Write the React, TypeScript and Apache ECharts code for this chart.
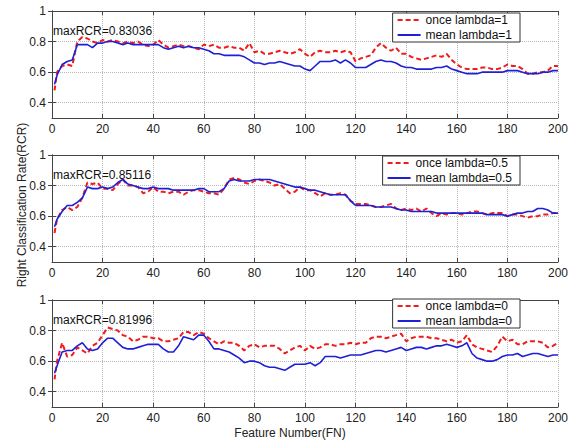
import React, { useEffect, useRef } from "react";
import * as echarts from "echarts";

const FN = [1, 2, 4, 6, 8, 10, 12, 14, 16, 18, 20, 22, 24, 26, 28, 30, 32, 34, 36, 38, 40, 42, 44, 46, 48, 50, 52, 54, 56, 58, 60, 62, 64, 66, 68, 70, 72, 74, 76, 78, 80, 82, 84, 86, 88, 90, 92, 94, 96, 98, 100, 102, 104, 106, 108, 110, 112, 114, 116, 118, 120, 122, 124, 126, 128, 130, 132, 134, 136, 138, 140, 142, 144, 146, 148, 150, 152, 154, 156, 158, 160, 162, 164, 166, 168, 170, 172, 174, 176, 178, 180, 182, 184, 186, 188, 190, 192, 194, 196, 198, 200];

const once1 = [0.48,
  0.60, 0.64, 0.65, 0.64, 0.80, 0.83, 0.82, 0.80, 0.79, 0.81,
  0.80, 0.81, 0.80, 0.79, 0.80, 0.79, 0.80, 0.78, 0.77, 0.78,
  0.81, 0.78, 0.76, 0.77, 0.78, 0.77, 0.77, 0.76, 0.75, 0.78,
  0.77, 0.78, 0.76, 0.76, 0.77, 0.76, 0.76, 0.74, 0.79, 0.73,
  0.74, 0.72, 0.72, 0.73, 0.74, 0.73, 0.72, 0.73, 0.75, 0.72,
  0.70, 0.73, 0.74, 0.73, 0.73, 0.74, 0.73, 0.74, 0.73, 0.67,
  0.69, 0.70, 0.71, 0.76, 0.79, 0.76, 0.74, 0.76, 0.72, 0.72,
  0.70, 0.69, 0.68, 0.69, 0.70, 0.71, 0.70, 0.72, 0.68, 0.65,
  0.63, 0.62, 0.62, 0.62, 0.63, 0.63, 0.62, 0.62, 0.63, 0.65,
  0.64, 0.64, 0.62, 0.59, 0.59, 0.60, 0.60, 0.61, 0.64, 0.64];
const mean1 = [0.52,
  0.58, 0.65, 0.67, 0.68, 0.78, 0.78, 0.78, 0.76, 0.79, 0.79,
  0.80, 0.80, 0.79, 0.78, 0.79, 0.78, 0.78, 0.78, 0.78, 0.78,
  0.78, 0.76, 0.75, 0.76, 0.77, 0.76, 0.77, 0.76, 0.76, 0.75,
  0.74, 0.72, 0.72, 0.71, 0.71, 0.71, 0.71, 0.70, 0.68, 0.66,
  0.66, 0.65, 0.66, 0.66, 0.67, 0.66, 0.65, 0.64, 0.64, 0.62,
  0.61, 0.64, 0.67, 0.67, 0.67, 0.68, 0.66, 0.68, 0.66, 0.63,
  0.63, 0.63, 0.65, 0.67, 0.68, 0.67, 0.67, 0.66, 0.64, 0.63,
  0.63, 0.62, 0.62, 0.62, 0.62, 0.63, 0.63, 0.64, 0.62, 0.61,
  0.60, 0.59, 0.59, 0.59, 0.60, 0.60, 0.60, 0.60, 0.60, 0.61,
  0.61, 0.61, 0.60, 0.59, 0.59, 0.59, 0.60, 0.60, 0.61, 0.61];
const once05 = [0.49,
  0.58, 0.64, 0.66, 0.64, 0.66, 0.72, 0.82, 0.81, 0.82, 0.78,
  0.78, 0.77, 0.81, 0.84, 0.80, 0.80, 0.79, 0.75, 0.76, 0.79,
  0.76, 0.76, 0.75, 0.76, 0.76, 0.74, 0.76, 0.77, 0.77, 0.76,
  0.75, 0.75, 0.74, 0.78, 0.84, 0.85, 0.84, 0.82, 0.81, 0.83,
  0.84, 0.83, 0.82, 0.80, 0.81, 0.78, 0.75, 0.76, 0.79, 0.77,
  0.77, 0.75, 0.73, 0.75, 0.74, 0.74, 0.75, 0.74, 0.70, 0.68,
  0.68, 0.68, 0.67, 0.66, 0.66, 0.67, 0.68, 0.65, 0.64, 0.65,
  0.64, 0.65, 0.63, 0.65, 0.62, 0.60, 0.62, 0.61, 0.62, 0.62,
  0.61, 0.62, 0.63, 0.63, 0.62, 0.61, 0.62, 0.62, 0.62, 0.60,
  0.61, 0.61, 0.60, 0.59, 0.60, 0.60, 0.61, 0.61, 0.62, 0.62];
const mean05 = [0.53,
  0.58, 0.63, 0.67, 0.67, 0.69, 0.72, 0.79, 0.78, 0.78, 0.79,
  0.78, 0.79, 0.82, 0.84, 0.81, 0.80, 0.79, 0.78, 0.78, 0.79,
  0.78, 0.78, 0.78, 0.77, 0.77, 0.77, 0.77, 0.77, 0.78, 0.78,
  0.76, 0.76, 0.76, 0.78, 0.83, 0.84, 0.83, 0.83, 0.83, 0.84,
  0.84, 0.84, 0.84, 0.83, 0.82, 0.81, 0.80, 0.79, 0.79, 0.78,
  0.77, 0.77, 0.76, 0.75, 0.74, 0.74, 0.74, 0.74, 0.70, 0.67,
  0.67, 0.67, 0.67, 0.66, 0.66, 0.66, 0.66, 0.65, 0.64, 0.64,
  0.63, 0.63, 0.63, 0.63, 0.63, 0.62, 0.62, 0.62, 0.62, 0.62,
  0.62, 0.62, 0.62, 0.62, 0.62, 0.61, 0.61, 0.61, 0.61, 0.60,
  0.61, 0.62, 0.62, 0.63, 0.63, 0.65, 0.65, 0.64, 0.62, 0.62];
const once0 = [0.48,
  0.60, 0.72, 0.63, 0.64, 0.69, 0.67, 0.65, 0.70, 0.72, 0.77,
  0.82, 0.81, 0.80, 0.77, 0.76, 0.73, 0.74, 0.76, 0.76, 0.75,
  0.75, 0.73, 0.73, 0.74, 0.75, 0.79, 0.79, 0.77, 0.79, 0.78,
  0.75, 0.73, 0.71, 0.73, 0.72, 0.72, 0.70, 0.67, 0.70, 0.71,
  0.69, 0.70, 0.70, 0.70, 0.68, 0.65, 0.67, 0.69, 0.70, 0.67,
  0.70, 0.68, 0.69, 0.71, 0.71, 0.70, 0.71, 0.71, 0.72, 0.71,
  0.72, 0.72, 0.75, 0.76, 0.76, 0.75, 0.76, 0.77, 0.78, 0.73,
  0.75, 0.76, 0.76, 0.76, 0.75, 0.75, 0.74, 0.73, 0.74, 0.72,
  0.73, 0.77, 0.71, 0.69, 0.68, 0.67, 0.66, 0.70, 0.76, 0.73,
  0.74, 0.71, 0.71, 0.73, 0.73, 0.73, 0.72, 0.69, 0.70, 0.72];
const mean0 = [0.52,
  0.57, 0.66, 0.67, 0.67, 0.70, 0.72, 0.68, 0.67, 0.68, 0.72,
  0.75, 0.75, 0.72, 0.69, 0.68, 0.68, 0.69, 0.70, 0.71, 0.71,
  0.71, 0.68, 0.66, 0.66, 0.70, 0.76, 0.75, 0.74, 0.77, 0.77,
  0.73, 0.68, 0.68, 0.67, 0.66, 0.64, 0.62, 0.59, 0.60, 0.60,
  0.59, 0.57, 0.56, 0.56, 0.55, 0.54, 0.56, 0.58, 0.58, 0.58,
  0.59, 0.57, 0.59, 0.63, 0.63, 0.63, 0.62, 0.63, 0.64, 0.64,
  0.64, 0.65, 0.66, 0.67, 0.67, 0.66, 0.67, 0.68, 0.69, 0.67,
  0.68, 0.69, 0.69, 0.68, 0.69, 0.70, 0.70, 0.71, 0.70, 0.69,
  0.70, 0.72, 0.65, 0.62, 0.61, 0.60, 0.60, 0.61, 0.63, 0.64,
  0.64, 0.65, 0.63, 0.64, 0.65, 0.65, 0.64, 0.63, 0.64, 0.64];

const X_TICKS_INTERVAL = 20;
const Y_TICKS = [0.4, 0.6, 0.8, 1];
const PANELS = [
  { once: once1, mean: mean1, onceName: "once lambda=1", meanName: "mean lambda=1", maxText: "maxRCR=0.83036" },
  { once: once05, mean: mean05, onceName: "once lambda=0.5", meanName: "mean lambda=0.5", maxText: "maxRCR=0.85116" },
  { once: once0, mean: mean0, onceName: "once lambda=0", meanName: "mean lambda=0", maxText: "maxRCR=0.81996" },
];
const Y_TITLE = "Right Classification Rate(RCR)";
const X_TITLE = "Feature Number(FN)";

const GRID_TOPS = [11, 155, 300];
const GRID_H = 107;
const GRID_LEFT = 52;
const GRID_RIGHT = 13;
const LEGEND_TOPS = [13, 156, 299];
const FONT = "Arial, 'Liberation Sans', Helvetica, sans-serif";
const AXIS_COLOR = "#444";

export default function App() {
  const ref = useRef<HTMLDivElement>(null);
  useEffect(() => {
    if (!ref.current) return;
    const chart = echarts.init(ref.current, null, { renderer: "svg" });
    const grid: any[] = [];
    const xAxis: any[] = [];
    const yAxis: any[] = [];
    const series: any[] = [];
    const legend: any[] = [];
    const graphic: any[] = [];
    PANELS.forEach((p, i) => {
      grid.push({ left: GRID_LEFT, right: GRID_RIGHT, top: GRID_TOPS[i], height: GRID_H, containLabel: false });
      xAxis.push({
        type: "value", gridIndex: i, min: 0, max: 200, interval: X_TICKS_INTERVAL, position: "bottom",
        axisLine: { show: true, lineStyle: { color: AXIS_COLOR, width: 1 } },
        axisTick: { show: true, inside: true, length: 4, lineStyle: { color: AXIS_COLOR } },
        axisLabel: { color: "#222", fontSize: 12, fontFamily: FONT, margin: 5 },
        splitLine: { show: true, lineStyle: { type: "dotted", color: "#b8b8b8", width: 1 } },
      });
      yAxis.push({
        type: "value", gridIndex: i, min: 0.3, max: 1, position: "left",
        axisLine: { show: true, lineStyle: { color: AXIS_COLOR, width: 1 } },
        axisTick: { show: true, inside: true, length: 4, customValues: Y_TICKS, lineStyle: { color: AXIS_COLOR } },
        axisLabel: {
          color: "#222", fontSize: 12, fontFamily: FONT, margin: 6, customValues: Y_TICKS,
          formatter: (v: number) => (v === 1 ? "1" : v.toFixed(1)),
        },
        splitLine: { show: true, lineStyle: { type: "dotted", color: "#b8b8b8", width: 1 } },
      });
      series.push({
        type: "line", name: p.onceName, xAxisIndex: i, yAxisIndex: i, symbol: "none",
        data: FN.map((x, k) => [x, p.once[k]]),
        lineStyle: { color: "#ee1c1c", width: 2, type: [5, 3] }, itemStyle: { color: "#ee1c1c" },
      });
      series.push({
        type: "line", name: p.meanName, xAxisIndex: i, yAxisIndex: i, symbol: "none",
        data: FN.map((x, k) => [x, p.mean[k]]),
        lineStyle: { color: "#1f1fd6", width: 1.6, type: "solid" }, itemStyle: { color: "#1f1fd6" },
      });
      legend.push({
        data: [p.onceName, p.meanName], orient: "vertical", right: 51, top: LEGEND_TOPS[i],
        itemWidth: 23, itemHeight: 8, itemGap: 3, padding: [1, 8, 1, 4],
        backgroundColor: "#fff", borderColor: "#333", borderWidth: 1, selectedMode: false,
        itemStyle: { opacity: 0, borderWidth: 0 },
        textStyle: { fontSize: 12, fontFamily: FONT, color: "#111", padding: [0, 0, 0, 0] },
      });
      graphic.push({
        type: "text", left: GRID_LEFT + 1, top: GRID_TOPS[i] + 14,
        style: { text: p.maxText, font: `12px ${FONT}`, fill: "#111" },
      });
    });
    PANELS.forEach((_p, i) => {
      xAxis.push({
        type: "value", gridIndex: i, min: 0, max: 200, interval: X_TICKS_INTERVAL, position: "top",
        axisLine: { show: true, lineStyle: { color: AXIS_COLOR, width: 1 } },
        axisTick: { show: true, inside: true, length: 4, lineStyle: { color: AXIS_COLOR } },
        axisLabel: { show: false }, splitLine: { show: false },
      });
      yAxis.push({
        type: "value", gridIndex: i, min: 0.3, max: 1, position: "right",
        axisLine: { show: true, lineStyle: { color: AXIS_COLOR, width: 1 } },
        axisTick: { show: true, inside: true, length: 4, customValues: Y_TICKS, lineStyle: { color: AXIS_COLOR } },
        axisLabel: { show: false, customValues: Y_TICKS }, splitLine: { show: false },
      });
    });
    graphic.push({
      type: "text", x: 22, y: 205, rotation: Math.PI / 2,
      style: { text: Y_TITLE, font: `12px ${FONT}`, fill: "#222", align: "center", verticalAlign: "middle" },
    });
    graphic.push({
      type: "text", x: 290, y: 433,
      style: { text: X_TITLE, font: `12px ${FONT}`, fill: "#222", align: "center", verticalAlign: "middle" },
    });
    chart.setOption({
      animation: false,
      backgroundColor: "#fff",
      grid, xAxis, yAxis, series, legend, graphic,
    });
    return () => chart.dispose();
  }, []);
  return <div ref={ref} style={{ position: "fixed", left: 0, top: 0, width: 571, height: 441 }} />;
}
